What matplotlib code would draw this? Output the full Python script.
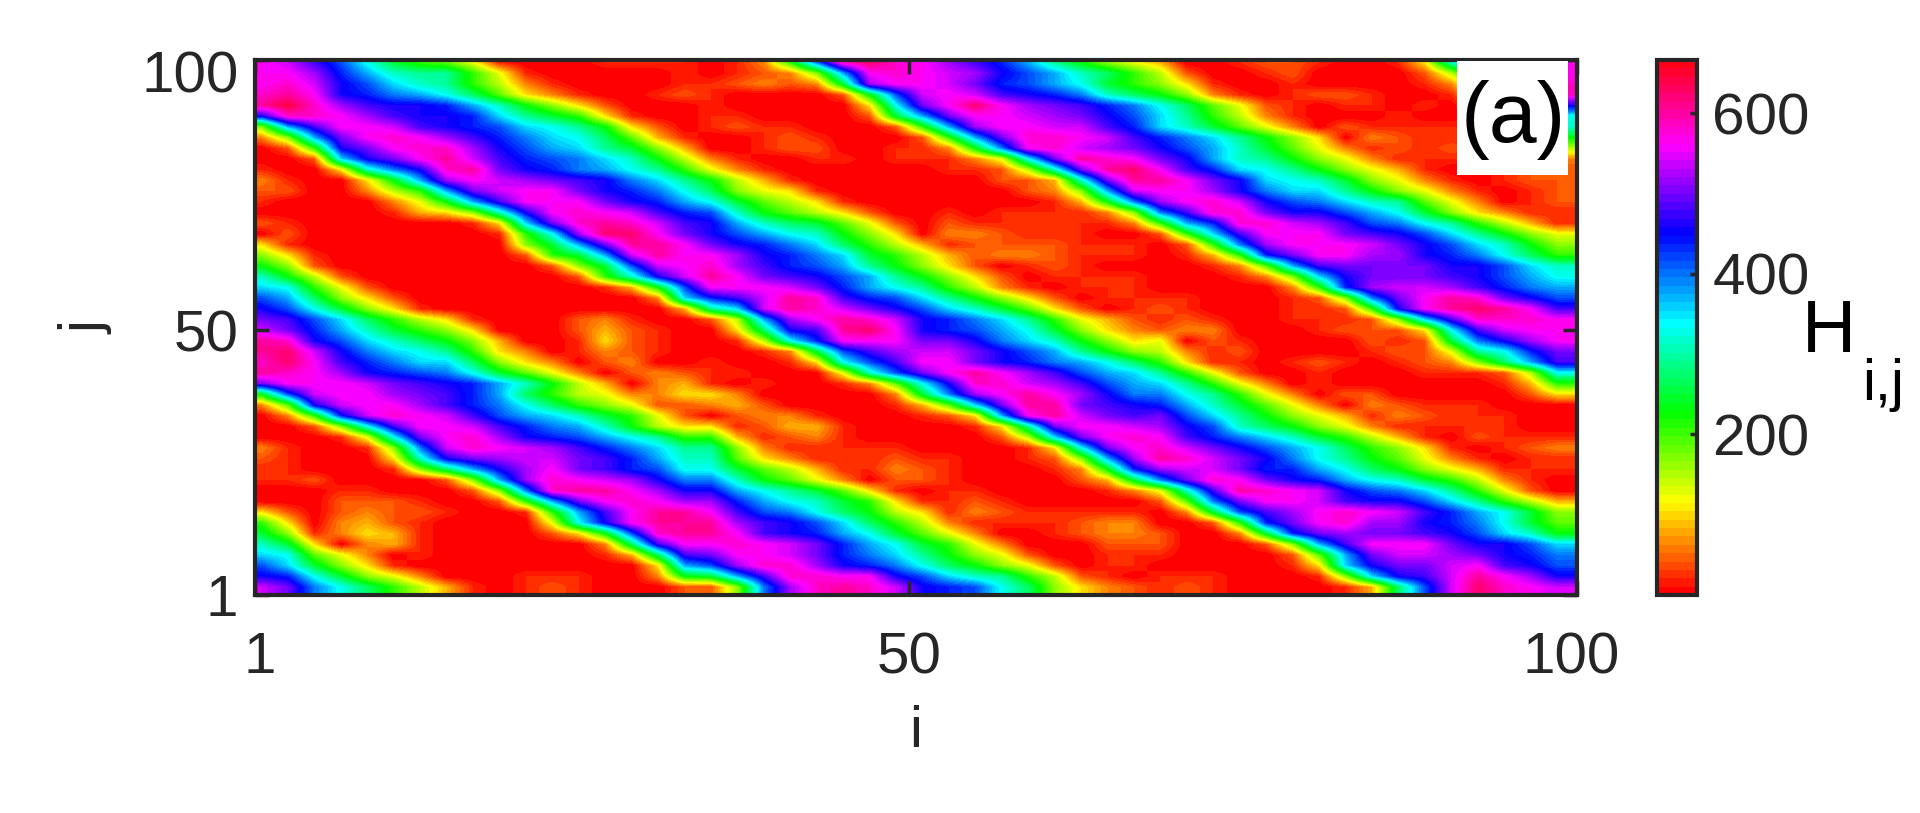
import colorsys
import numpy as np
import matplotlib
matplotlib.use("Agg")
from matplotlib import pyplot as plt
from matplotlib.colors import ListedColormap
from matplotlib.patches import Rectangle
from matplotlib.transforms import ScaledTranslation

plt.rcParams['font.family'] = ['Liberation Sans', 'DejaVu Sans']

# H, every second cell, top row first.
# One base-32 digit per cell, one digit is H_STEP in H.
H_STEP = 666 / 32
H_rows = [
    "rqnkgca9610001111" "013ajsusrpnlieb86" "40012210015fkmor",
    "rrplifeea61000001" "01238irsrqpmkifda" "720012000027dinr",
    "rsqmkhfea73100001" "12323cprrqolkigca" "8510010000139ejs",
    "strmljigd95310012" "100002bkqrqnmljfd" "b831012210015bhs",
    "tvspnmmlifb852000" "1000005gorurponlj" "gd962101101038fm",
    "mssrpnmmlheca5100" "1100002ciorrqpomk" "hea73100010015bg",
    "8inrrqnmlkhgeb520" "12110002aiprrqqnl" "hfc963021111138f",
    "38iorsrpnljhgd941" "001210002aiossrqn" "ljheb8503211115b",
    "02amorsspmkihec84" "0012200113bjrsqpo" "mkifc96312121127",
    "002hmortqnlkjhfb7" "310011011136gotsr" "omifeb8631111113",
    "1005fjmstomljigea" "6310000001127fotu" "rnlhgeb864100122",
    "31005biprqponmjhe" "b7410000000224fot" "tromhgfc86310122",
    "220037aioqrromljg" "d86510000000238iq" "rrpmjhheb8631012",
    "1000036binrrromli" "gc9751000000014bj" "prsqmkjhfe963012",
    "000001458fmrsrqnl" "kfb97520010111138" "jnssommkigc85311",
    "2100000015hostsqn" "mifdc962021111113" "ailssqpnkjgea741",
    "0200000001agpuuro" "mkigfb85033211100" "2ahnrrronmkheb86",
    "51000000008ciottr" "omljhda7412222111" "02ajprrrqomkhfb8",
    "85100000002aciqtr" "rpmljhca742332111" "014alorrppmljgda",
    "b820000000028ckqr" "spnlkieb852012100" "00139inoooommkhf",
    "fb72000000002afmq" "tronmkieb85201111" "000138hmooonmkig",
    "hga620000000014bk" "rrrqoligea7310111" "000003alpqqpnlji",
    "kid8520000000003h" "lnqtsnlkheb852011" "11000128jortsomk",
    "mkgc8510000000004" "ehqtsqomkhfc95201" "21000112amrtutrn",
    "onkhda75100023100" "27iprtsqmljhea642" "1210011128hnsssr",
    "qolifca8500024210" "05dmnturmlkigc853" "23300012225gnqrr",
    "tsmkhfdb840015210" "017glrrroomjhfb85" "60210000212cjmpr",
    "tuqmjhgea53013210" "0013cknpqqomkieb8" "731200001226eglo",
    "surnljhhd85302300" "10015gknrromljigd" "a511012101238din",
    "tsrpmlkjgc9630232" "110006fkortrpnkih" "ea6200100011127g",
    "orrrqonmlifb74034" "10100139gmssqpnki" "hea630100000014a",
    "bkqrrponlida76335" "53000003cjprtrpmj" "jgea630220000025",
    "39mqrrpnljgda8622" "3420000149hottonm" "lifc963032111000",
    "03alqsrqnkihfca62" "02331000125irtqon" "okheb86413211100",
    "0028gnrrqnljifb75" "512441000015eorrq" "pmkfdb8631111100",
    "00016gorspmlkigea" "a412310000027hors" "rnljhfca74102111",
    "310018jqsrqpnljhe" "e8311111000015gor" "sqomkigda8510123",
    "210005fmopqqonlif" "f95311121100128ip" "tsqomjgeb9631011",
    "1100018dimpronlkg" "gc9741132100013bl" "pqqolligdb864111",
    "112000028ipsrqpmj" "jfb9630221000024c" "josromligfca7310",
    "0001100028jsttrpm" "migec951011000013" "6fntsrqmkjhea620",
    "0002221002aiorsrp" "pligfca5112100000" "29jorrqnmmkhea74",
    "52023221001ainrtt" "rnkjgdb7513211111" "03cknprsrqnligc8",
    "a50342100006gmrtt" "tpnmkhda731111233" "002alorsppmljgc9",
    "c813541000025bkst" "trnmligc963001233" "2003clopoonmkhfb",
    "fc503410000003dnr" "rsrqoligca6300022" "200028inrrrommkh",
    "hg9630100000014dn" "orrqoljheb8620011" "1000029ioqqpomlj",
    "khc8510000000005i" "kpsspmljgdb862011" "0000015hmooqrnmk",
    "mlgc863000111003b" "cinssrrmkhfea7210" "11100018hmnqtrpm",
    "qojgda74101210002" "28jpstsqmlkgd8532" "121000014dkqusrq",
]
x_ticks = [1, 50, 100]
y_ticks = [1, 50, 100]
cbar_ticks = [200, 400, 600]
H_MIN, H_MAX = 0, 666

DARK = '#262626'
W, H = 1920, 813


def px_axes(left, top, right, bottom):
    return fig.add_axes([left / W, 1 - bottom / H, (right - left) / W, (bottom - top) / H])


def nudge(label, dx, dy):
    # move a tick label by some pixels
    label.set_transform(label.get_transform() + ScaledTranslation(dx / 100, dy / 100, fig.dpi_scale_trans))


H_grid = np.array([[int(c, 32) for c in row] for row in H_rows]) * H_STEP
# the last sampled cell is half a sample short of the frame
H_grid = np.pad(H_grid, ((0, 1), (0, 1)), mode='edge')

# MATLAB style hsv map with 64 steps
hsv64 = ListedColormap([colorsys.hsv_to_rgb(k / 64, 1, 1) for k in range(64)])

fig = plt.figure(figsize=(W / 100, H / 100), dpi=100)
ax = px_axes(255, 60, 1577, 595)
im = ax.imshow(H_grid, cmap=hsv64, vmin=H_MIN, vmax=H_MAX, aspect='auto',
               interpolation='bilinear', interpolation_stage='data',
               extent=(0.5, 1 + 99 * 1.015, 1 + 99 * (-0.015), 100.5), origin='upper')
ax.set_xlim(1, 100)
ax.set_ylim(1, 100)
ax.set_xticks(x_ticks)
ax.set_yticks(y_ticks)
ax.tick_params(direction='in', length=10, width=2.5, color=DARK, labelcolor=DARK,
               labelsize=42, top=True, right=True)
ax.tick_params(axis='x', pad=26)
ax.tick_params(axis='y', pad=12)
ax.set_xlabel('i', fontsize=42, color=DARK, labelpad=14)
ax.set_ylabel('j', fontsize=42, color=DARK, labelpad=20)
for spine in ax.spines.values():
    spine.set_linewidth(3)
    spine.set_color(DARK)

nudge(ax.get_xticklabels()[0], 5, 0)
nudge(ax.get_xticklabels()[2], -6, 0)
nudge(ax.get_yticklabels()[2], 0, -12)

# panel tag on its white box
ax.add_patch(Rectangle((0.9096, 0.785), 0.0835, 0.213, transform=ax.transAxes,
                       facecolor='white', edgecolor='none', zorder=3))
ax.text(0.9515, 0.888, '(a)', transform=ax.transAxes, fontsize=62, color='black',
        ha='center', va='center', zorder=4)

cax = px_axes(1657, 60, 1697, 595)
cbar = fig.colorbar(im, cax=cax, ticks=cbar_ticks)
cbar.ax.tick_params(direction='in', length=5, width=2.5, color=DARK, labelcolor=DARK,
                    labelsize=42, pad=11)
cbar.outline.set_linewidth(3)
cbar.outline.set_edgecolor(DARK)

fig.text(1802 / W, 1 - 332 / H, 'H', fontsize=54, color='black', ha='left', va='center')
fig.text(1862 / W, 1 - 385 / H, 'i,j', fontsize=42, color='black', ha='left', va='center')

fig.savefig('out.png', dpi=100, facecolor='white')
